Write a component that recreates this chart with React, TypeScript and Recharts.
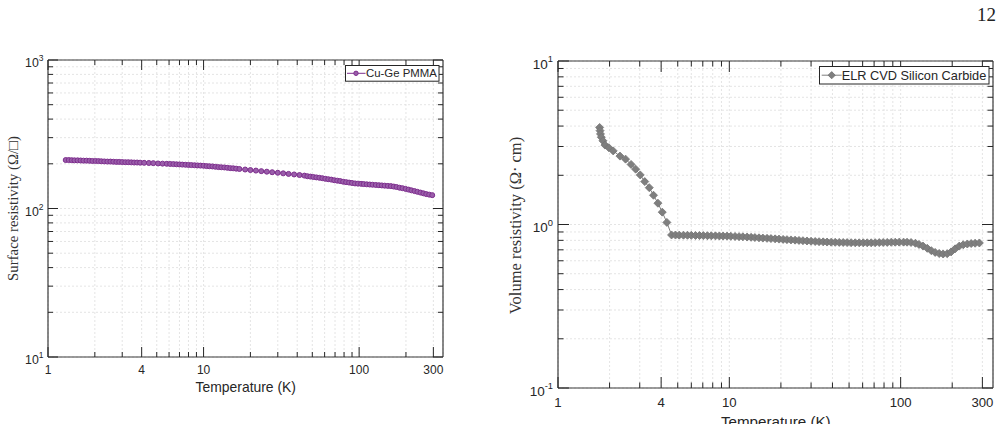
import React from "react";
import { LineChart, Line, XAxis, YAxis, CartesianGrid, Legend } from "recharts";

// Cu-Ge PMMA: surface resistivity (ohm/sq) against temperature (K)
const cuGeTemperature = [
  1.3, 1.36, 1.42, 1.48, 1.55, 1.62, 1.69, 1.77, 1.85, 1.93, 2.02, 2.11, 2.2, 2.3, 2.41, 2.52, 2.63, 2.75, 2.87, 3.0,
  3.14, 3.28, 3.43, 3.58, 3.74, 3.91,
  4.15, 4.45, 4.75, 5.1, 5.45, 5.8,
  6.1, 6.4, 6.7, 7.0, 7.3, 7.65, 8.0, 8.35, 8.75, 9.15, 9.55, 10.0, 10.45, 10.9, 11.4, 11.9, 12.45, 13.0, 13.6, 14.2,
  14.85, 15.5, 16.2, 17.0,
  18.5, 20.0, 21.7, 23.5, 25.5, 27.6, 30.0, 32.5, 35.2, 38.2, 41.4,
  44.5, 46.5, 48.6, 50.8, 53.1, 55.5, 58.0, 60.6, 63.3, 66.2, 69.2, 72.3, 75.5, 78.9, 82.5, 86.2, 90.0, 94.1, 98.3,
  103, 107, 112, 117, 122, 128, 134, 140, 146, 153, 160, 167, 174, 182, 190, 199, 208, 217, 227, 237, 248, 259, 270,
  282, 295,
];
const cuGeResistivity = [
  212, 212, 211.5, 211, 211, 210.5, 210, 210, 209.5, 209, 209, 208.5, 208, 207.5, 207, 207, 206.5, 206, 206, 205.5,
  205, 205, 204.5, 204, 204, 203.5,
  203, 202.5, 202, 201, 200.5, 200,
  199.5, 199, 198.5, 198, 197.5, 197, 196.5, 196, 195.5, 195, 194.5, 194, 193, 192.5, 192, 191, 190, 189.5, 189, 188,
  187, 186.5, 185.5, 184.5,
  183, 181.5, 180, 178.5, 177, 175.5, 174, 172.5, 171, 169.5, 168,
  166.5, 165, 164, 163, 162, 161, 160, 158.5, 157.5, 156.5, 155, 154, 153, 151.5, 150.5, 149.5, 148.5, 147.5, 147,
  146.5, 146, 145.5, 145, 144.5, 144, 143.5, 143, 142.5, 142, 141.5, 140.5, 139.5, 138, 137, 135.5, 134, 132.5, 131,
  129.5, 128, 126.5, 125, 124, 123,
];

// ELR CVD silicon carbide: volume resistivity (ohm cm) against temperature (K)
const sicTemperature = [
  1.75, 1.76, 1.77, 1.79, 1.83, 1.88, 1.98, 2.1, 2.3, 2.48, 2.67, 2.84, 3.02, 3.21, 3.41, 3.61, 3.83, 4.06, 4.32,
  4.6, 4.85, 5.1, 5.4, 5.7, 6.0, 6.35, 6.7, 7.05, 7.45, 7.85, 8.3, 8.75, 9.2, 9.7, 10.2, 10.8, 11.4, 12.0, 12.7,
  13.4, 14.1, 14.9, 15.7, 16.6, 17.5, 18.5, 19.5, 20.6, 21.7, 22.9, 24.2, 25.5, 26.9, 28.4, 30.0, 31.7, 33.4, 35.3,
  37.2, 39.3, 41.5, 43.8, 46.2, 48.7, 51.4, 54.3, 57.3, 60.5, 63.8, 67.3, 71.0, 75.0, 79.1, 83.5, 88.1, 93.0, 98.1,
  104, 109, 115, 122, 128, 135, 143, 151, 159, 168, 177, 187, 197, 208, 220, 232, 245, 258, 272, 288,
];
const sicResistivity = [
  3.92, 3.75, 3.58, 3.42, 3.25, 3.06, 2.95, 2.82, 2.62, 2.51, 2.33, 2.18, 2.01, 1.83, 1.68, 1.51, 1.35, 1.19, 1.03,
  0.863, 0.862, 0.861, 0.86, 0.859, 0.858, 0.857, 0.856, 0.855, 0.854, 0.853, 0.852, 0.851, 0.85, 0.849, 0.847,
  0.845, 0.843, 0.841, 0.838, 0.835, 0.832, 0.829, 0.826, 0.823, 0.82, 0.817, 0.814, 0.811, 0.808, 0.805, 0.802,
  0.799, 0.796, 0.793, 0.79, 0.787, 0.785, 0.783, 0.781, 0.779, 0.778, 0.777, 0.776, 0.775, 0.774, 0.773, 0.773,
  0.773, 0.773, 0.773, 0.774, 0.775, 0.776, 0.777, 0.778, 0.779, 0.78, 0.78, 0.779, 0.776, 0.768, 0.755, 0.738,
  0.715, 0.692, 0.675, 0.664, 0.66, 0.663, 0.68, 0.71, 0.738, 0.752, 0.76, 0.765, 0.768, 0.771,
];

// Axis ticks (all decades subdivided; only some values carry labels)
const tempTicks = [1, 2, 3, 4, 5, 6, 7, 8, 9, 10, 20, 30, 40, 50, 60, 70, 80, 90, 100, 200, 300];
const tempLabels = [1, 4, 10, 100, 300];
const surfaceTicks = [10, 20, 30, 40, 50, 60, 70, 80, 90, 100, 200, 300, 400, 500, 600, 700, 800, 900, 1000];
const surfaceLabels = [10, 100, 1000];
const volumeTicks = [0.1, 0.2, 0.3, 0.4, 0.5, 0.6, 0.7, 0.8, 0.9, 1, 2, 3, 4, 5, 6, 7, 8, 9, 10];
const volumeLabels = [0.1, 1, 10];

const cuGeData = cuGeTemperature.map((t, i) => ({ t, r: cuGeResistivity[i] }));
const sicData = sicTemperature.map((t, i) => ({ t, r: sicResistivity[i] }));

const PURPLE = "#7E2F8E";
const PURPLE_FILL = "#9A5EAA";
const GREY = "#7F7F7F";
const INK = "#262626";
const SANS = "'Liberation Sans', Arial, Helvetica, sans-serif";
const SERIF = "'Liberation Serif', 'Times New Roman', serif";
const AXIS = { stroke: "#3a3a3a", strokeWidth: 1.2 };

type Side = "bottom" | "top" | "left" | "right";

function makeTick(side: Side, labels: number[], s: number, showLabel: boolean) {
  return (props: any) => {
    const { x, y, payload } = props;
    const v = payload.value;
    const major = labels.some((l) => Math.abs(l - v) < 1e-9);
    const len = (major ? 10 : 5) * s;
    let line: React.ReactNode = null;
    if (side === "bottom") line = <line x1={x} x2={x} y1={y} y2={y - len} stroke={INK} strokeWidth={1} />;
    if (side === "top") line = <line x1={x} x2={x} y1={y} y2={y + len} stroke={INK} strokeWidth={1} />;
    if (side === "left") line = <line x1={x} x2={x + len} y1={y} y2={y} stroke={INK} strokeWidth={1} />;
    if (side === "right") line = <line x1={x} x2={x - len} y1={y} y2={y} stroke={INK} strokeWidth={1} />;
    let label: React.ReactNode = null;
    if (showLabel && major) {
      if (side === "bottom") {
        label = (
          <text x={x} y={y + 17 * s} textAnchor="middle" fontFamily={SANS} fontSize={12 * s} fill={INK}>
            {v}
          </text>
        );
      } else if (side === "left") {
        const exp = Math.round(Math.log10(v));
        label = (
          <text x={x - 4.5 * s} y={y + 7 * s} textAnchor="end" fontFamily={SANS} fontSize={12.3 * s} fill={INK}>
            10
            <tspan dy={-6 * s} fontSize={8.5 * s}>
              {exp < 0 ? "-" + Math.abs(exp) : String(exp)}
            </tspan>
          </text>
        );
      }
    }
    return (
      <g>
        {line}
        {label}
      </g>
    );
  };
}

function CuGeLegend() {
  return (
    <svg width={95} height={17} style={{ display: "block" }}>
      <rect x={0.5} y={0.5} width={93.5} height={15.7} fill="#fff" stroke={INK} strokeWidth={1} />
      <line x1={2} x2={20.5} y1={8.3} y2={8.3} stroke={PURPLE} strokeWidth={1} />
      <circle cx={11} cy={8.3} r={2.2} fill={PURPLE_FILL} stroke={PURPLE} strokeWidth={1} />
      <text x={21} y={12.4} fontFamily={SANS} fontSize={11.4} fill={INK}>
        Cu-Ge PMMA
      </text>
    </svg>
  );
}

function SicLegend() {
  return (
    <svg width={171} height={19} style={{ display: "block" }}>
      <rect x={0.5} y={0.5} width={169.5} height={17.5} fill="#fff" stroke={INK} strokeWidth={1} />
      <line x1={2.7} x2={22.7} y1={9.2} y2={9.2} stroke={GREY} strokeWidth={1} />
      <polygon points="12.7,5.6 16.3,9.2 12.7,12.8 9.1,9.2" fill={GREY} stroke="#6f6f6f" strokeWidth={0.8} />
      <text x={22.7} y={13.7} fontFamily={SANS} fontSize={12.75} fill={INK}>
        ELR CVD Silicon Carbide
      </text>
    </svg>
  );
}

const circleDot = (p: any) => (
  <circle key={"c" + p.index} cx={p.cx} cy={p.cy} r={2.5} fill={PURPLE_FILL} stroke={PURPLE} strokeWidth={1} />
);

const diamondDot = (p: any) => {
  const h = 4;
  return (
    <polygon
      key={"d" + p.index}
      points={`${p.cx},${p.cy - h} ${p.cx + h},${p.cy} ${p.cx},${p.cy + h} ${p.cx - h},${p.cy}`}
      fill={GREY}
      stroke="#747474"
      strokeWidth={0.8}
    />
  );
};

// Shared axis settings: ticks drawn inward by the custom renderers
const axisCommon = {
  type: "number" as const,
  scale: "log" as const,
  allowDataOverflow: true,
  interval: 0 as const,
  tickSize: 0,
  tickMargin: 0,
  axisLine: AXIS,
  tickLine: false,
};

export default function App() {
  return (
    <div
      style={{
        position: "absolute",
        left: 0,
        top: 0,
        width: 1003,
        height: 424,
        overflow: "hidden",
        background: "#fff",
      }}
    >
      {/* Surface resistivity panel */}
      <div style={{ position: "absolute", left: 0, top: 0 }}>
        <LineChart width={460} height={424} data={cuGeData} margin={{ top: 50, left: 8, right: 7, bottom: 37 }}>
          <CartesianGrid stroke="#dddddd" strokeDasharray="2 2" strokeWidth={0.8} />
          <XAxis
            {...axisCommon}
            dataKey="t"
            domain={[1, 346]}
            ticks={tempTicks}
            height={30}
            tick={makeTick("bottom", tempLabels, 1, true)}
          />
          <XAxis
            {...axisCommon}
            xAxisId="top"
            orientation="top"
            dataKey="t"
            domain={[1, 346]}
            ticks={tempTicks}
            height={10}
            tick={makeTick("top", tempLabels, 1, false)}
          />
          <YAxis
            {...axisCommon}
            domain={[10, 1000]}
            ticks={surfaceTicks}
            width={40}
            tick={makeTick("left", surfaceLabels, 1, true)}
          />
          <YAxis
            {...axisCommon}
            yAxisId="right"
            orientation="right"
            domain={[10, 1000]}
            ticks={surfaceTicks}
            width={10}
            tick={makeTick("right", surfaceLabels, 1, false)}
          />
          <Line
            dataKey="r"
            type="linear"
            stroke={PURPLE}
            strokeWidth={1}
            dot={circleDot}
            activeDot={false}
            isAnimationActive={false}
          />
          <Legend
            layout="vertical"
            align="center"
            verticalAlign="middle"
            content={() => <CuGeLegend />}
            wrapperStyle={{ position: "absolute", left: 344.7, top: 65, width: 95, height: 17 }}
          />
        </LineChart>
      </div>

      {/* Volume resistivity panel */}
      <div style={{ position: "absolute", left: 500, top: 0 }}>
        <LineChart width={503} height={424} data={sicData} margin={{ top: 51, left: 18, right: 0, bottom: 6 }}>
          <CartesianGrid stroke="#dddddd" strokeDasharray="2 2" strokeWidth={0.8} />
          <XAxis
            {...axisCommon}
            dataKey="t"
            domain={[1, 346]}
            ticks={tempTicks}
            height={30}
            tick={makeTick("bottom", tempLabels, 1.1, true)}
          />
          <XAxis
            {...axisCommon}
            xAxisId="top"
            orientation="top"
            dataKey="t"
            domain={[1, 346]}
            ticks={tempTicks}
            height={10}
            tick={makeTick("top", tempLabels, 1.1, false)}
          />
          <YAxis
            {...axisCommon}
            domain={[0.1, 10]}
            ticks={volumeTicks}
            width={40}
            tick={makeTick("left", volumeLabels, 1.1, true)}
          />
          <YAxis
            {...axisCommon}
            yAxisId="right"
            orientation="right"
            domain={[0.1, 10]}
            ticks={volumeTicks}
            width={10}
            tick={makeTick("right", volumeLabels, 1.1, false)}
          />
          <Line
            dataKey="r"
            type="linear"
            stroke={GREY}
            strokeWidth={1}
            dot={diamondDot}
            activeDot={false}
            isAnimationActive={false}
          />
          <Legend
            layout="vertical"
            align="center"
            verticalAlign="middle"
            content={() => <SicLegend />}
            wrapperStyle={{ position: "absolute", left: 319.3, top: 66, width: 171, height: 19 }}
          />
        </LineChart>
      </div>

      {/* Axis titles and page number */}
      <svg
        width={1003}
        height={424}
        style={{ position: "absolute", left: 0, top: 0, pointerEvents: "none" }}
      >
        <text x={996} y={21} textAnchor="end" fontFamily={SERIF} fontSize={19} fill="#222">
          12
        </text>
        <text
          x={13.3}
          y={208.5}
          transform="rotate(-90 13.3 208.5)"
          textAnchor="middle"
          dominantBaseline="central"
          fontFamily={SERIF}
          fontSize={14.8}
          fill="#333"
        >
          Surface resistivity (Ω/□)
        </text>
        <text x={245.8} y={392} textAnchor="middle" fontFamily={SANS} fontSize={13.9} fill={INK}>
          Temperature (K)
        </text>
        <text
          x={515}
          y={225.5}
          transform="rotate(-90 515 225.5)"
          textAnchor="middle"
          dominantBaseline="central"
          fontFamily={SERIF}
          fontSize={16.5}
          fill="#333"
        >
          Volume resistivity (Ω· cm)
        </text>
        <text x={775.8} y={427} textAnchor="middle" fontFamily={SANS} fontSize={15.2} fill={INK}>
          Temperature (K)
        </text>
      </svg>
    </div>
  );
}
